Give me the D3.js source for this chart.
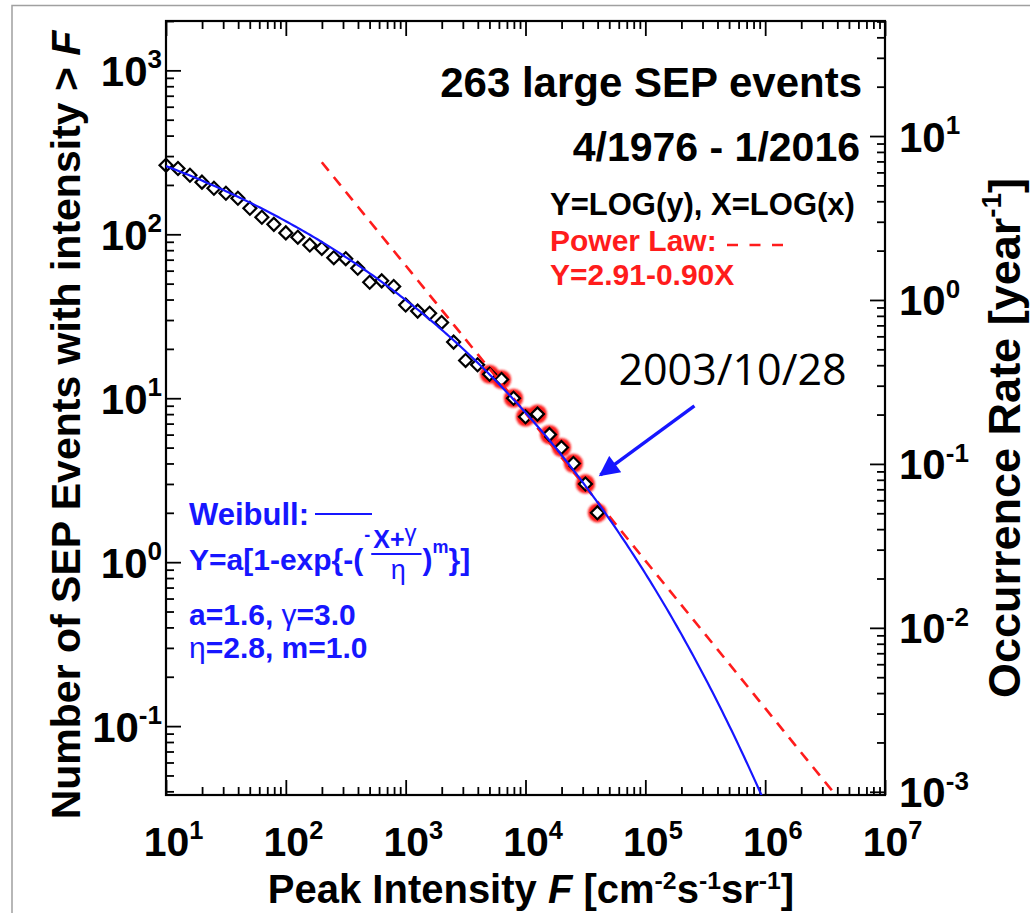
<!DOCTYPE html>
<html>
<head>
<meta charset="utf-8">
<script src="https://cdn.jsdelivr.net/npm/d3@7"></script>
<style>
  body { margin: 0; background: #fff; }
  svg text { font-family: "Liberation Sans", Arial, sans-serif; font-weight: bold; }
  svg text .greek, svg text.greek { font-weight: normal; }
</style>
</head>
<body>
<svg id="chart" width="1030" height="913"></svg>
<script>
// ---- data: cumulative SEP event counts in 0.1-decade intensity bins ----
const logIntensity = [1.0, 1.1, 1.2, 1.3, 1.4, 1.5, 1.6, 1.7, 1.8, 1.9,
                      2.0, 2.1, 2.2, 2.3, 2.4, 2.5, 2.6, 2.7, 2.8, 2.9,
                      3.0, 3.1, 3.2, 3.3, 3.4, 3.5, 3.6, 3.7, 3.8, 3.9,
                      4.0, 4.1, 4.2, 4.3, 4.4, 4.5, 4.6];
const eventCounts = [264, 252, 229, 208, 191, 178, 166, 144, 127, 115,
                     102, 96, 86, 82, 72, 71, 62, 51, 52, 48,
                     37, 34, 33, 29, 22, 17, 16, 14, 13, 10,
                     7.7, 8, 6, 5, 4, 3, 2];
// bins highlighted in the tail of the distribution
const circledLogIntensity = [3.7, 3.8, 3.9, 4.0, 4.1, 4.2, 4.3, 4.4, 4.5, 4.6];
// annotated event
const annotatedLogIntensity = 4.5;
const annotationLabel = "2003/10/28";

// fit parameters (Y = log rate, X = log intensity)
const weibullA = 1.6, weibullGamma = 3.0, weibullEta = 2.8, weibullM = 1.0;
const powerLawIntercept = 2.91, powerLawSlope = -0.90;
const powerLawStartX = 2.3;
const yearsCovered = 39.75;   // 4/1976 - 1/2016

// axis tick exponents
const xTickExponents = [1, 2, 3, 4, 5, 6, 7];
const yTickExponents = [-1, 0, 1, 2, 3];
const rateTickExponents = [-3, -2, -1, 0, 1];

// ---- layout ----
const svg = d3.select("#chart");
const L = 166, R = 885, T = 21, B = 795;
const nMin = 0.038, nMax = 2000;

const x = d3.scaleLog().domain([10, 1e7]).range([L, R]);
const y = d3.scaleLog().domain([nMin, nMax]).range([B, T]);
const yRate = d3.scaleLog().domain([nMin / yearsCovered, nMax / yearsCovered]).range([B, T]);

const BLUE = "#1616ff", RED = "#ff1c1c";

// slide border
svg.append("path").attr("d", "M12,913 V5.5 H1030")
  .attr("fill", "none").attr("stroke", "#a0a0a0").attr("stroke-width", 1.5);

function logTicks(lo, hi) {
  const out = [];
  for (let e = Math.floor(Math.log10(lo)) - 1; e <= Math.ceil(Math.log10(hi)); e++) {
    for (let k = 1; k < 10; k++) {
      const v = k * Math.pow(10, e);
      if (v >= lo * 0.9999 && v <= hi * 1.0001) out.push(v);
    }
  }
  return out;
}
const isMajor = v => Math.abs(Math.log10(v) - Math.round(Math.log10(v))) < 1e-6;

function richText(sel, parts, size, rise = 0.42) {
  let shifted = 0;
  parts.forEach(p => {
    const ts = sel.append("tspan").text(p.t);
    const want = p.sup ? -size * rise : 0;
    if (want - shifted !== 0) ts.attr("dy", want - shifted);
    shifted = want;
    if (p.sup) ts.attr("font-size", size * 0.62);
    if (p.it) ts.attr("font-style", "italic");
  });
}

const MAJ = 15, MIN = 8, TICKW = 1.8, LBL = 42;

// bottom axis
const xTicks = logTicks(10, 1e7);
const gxB = svg.append("g").attr("transform", `translate(0,${B})`)
  .call(d3.axisBottom(x).tickValues(xTicks).tickSize(0).tickFormat(""));
gxB.select(".domain").remove();
gxB.selectAll(".tick text").remove();
gxB.selectAll(".tick line").attr("y2", d => isMajor(d) ? -MAJ : -MIN)
  .attr("stroke", "#000").attr("stroke-width", TICKW);
gxB.selectAll(".tick").filter(d => isMajor(d) && xTickExponents.includes(Math.round(Math.log10(d))))
  .append("text").attr("x", -41 * 0.556).attr("y", 61).attr("fill", "#000")
  .attr("font-size", 41).attr("text-anchor", "start")
  .each(function (d) {
    richText(d3.select(this), [{ t: "10" }, { t: String(Math.round(Math.log10(d))), sup: true }], 41);
  });

// top axis (ticks only)
const gxT = svg.append("g").attr("transform", `translate(0,${T})`)
  .call(d3.axisTop(x).tickValues(xTicks).tickSize(0).tickFormat(""));
gxT.select(".domain").remove();
gxT.selectAll(".tick text").remove();
gxT.selectAll(".tick line").attr("y2", d => isMajor(d) ? MAJ : MIN)
  .attr("stroke", "#000").attr("stroke-width", TICKW);

// left axis
const yTicks = logTicks(nMin, nMax);
const gyL = svg.append("g").attr("transform", `translate(${L},0)`)
  .call(d3.axisLeft(y).tickValues(yTicks).tickSize(0).tickFormat(""));
gyL.select(".domain").remove();
gyL.selectAll(".tick text").remove();
gyL.selectAll(".tick line").attr("x2", d => isMajor(d) ? MAJ : MIN)
  .attr("stroke", "#000").attr("stroke-width", TICKW);
gyL.selectAll(".tick").filter(d => isMajor(d) && yTickExponents.includes(Math.round(Math.log10(d))))
  .append("text").attr("x", -4).attr("y", 15).attr("fill", "#000")
  .attr("font-size", LBL).attr("text-anchor", "end")
  .each(function (d) {
    richText(d3.select(this), [{ t: "10" }, { t: String(Math.round(Math.log10(d))), sup: true }], LBL);
  });

// right axis: occurrence rate
const rTicks = logTicks(nMin / yearsCovered, nMax / yearsCovered);
const gyR = svg.append("g").attr("transform", `translate(${R},0)`)
  .call(d3.axisRight(yRate).tickValues(rTicks).tickSize(0).tickFormat(""));
gyR.select(".domain").remove();
gyR.selectAll(".tick text").remove();
gyR.selectAll(".tick line").attr("x2", d => isMajor(d) ? -MAJ : -MIN)
  .attr("stroke", "#000").attr("stroke-width", TICKW);
gyR.selectAll(".tick").filter(d => isMajor(d) && rateTickExponents.includes(Math.round(Math.log10(d))))
  .append("text").attr("x", 14).attr("y", 15).attr("fill", "#000")
  .attr("font-size", LBL).attr("text-anchor", "start")
  .each(function (d) {
    richText(d3.select(this), [{ t: "10" }, { t: String(Math.round(Math.log10(d))), sup: true }], LBL);
  });

// plot frame
svg.append("rect").attr("x", L).attr("y", T).attr("width", R - L).attr("height", B - T)
  .attr("fill", "none").attr("stroke", "#000").attr("stroke-width", 2.2);

// axis titles
const xt = svg.append("text").attr("x", 531).attr("y", 903).attr("text-anchor", "middle")
  .attr("font-size", 40).attr("fill", "#000");
richText(xt, [{ t: "Peak Intensity " }, { t: "F", it: true }, { t: " [cm" }, { t: "-2", sup: true },
  { t: "s" }, { t: "-1", sup: true }, { t: "sr" }, { t: "-1", sup: true }, { t: "]" }], 40, 0.36);

const ylt = svg.append("text").attr("transform", "translate(80,425) rotate(-90)")
  .attr("text-anchor", "middle").attr("font-size", 41).attr("fill", "#000");
richText(ylt, [{ t: "Number of SEP Events with intensity > " }, { t: "F", it: true }], 41);

const yrt = svg.append("text").attr("transform", "translate(1020,438) rotate(-90)")
  .attr("text-anchor", "middle").attr("font-size", 45).attr("fill", "#000");
richText(yrt, [{ t: "Occurrence Rate [year" }, { t: "-1", sup: true }, { t: "]" }], 45);

// ---- data points ----
const defs = svg.append("defs");
defs.append("filter").attr("id", "glow").attr("x", "-50%").attr("y", "-50%").attr("width", "200%").attr("height", "200%")
  .append("feGaussianBlur").attr("stdDeviation", 0.9);

const pts = logIntensity.map((lx, i) => ({ lx, n: eventCounts[i],
  circled: circledLogIntensity.some(c => Math.abs(c - lx) < 1e-6) }));

svg.append("g").selectAll("circle").data(pts.filter(p => p.circled)).join("circle")
  .attr("cx", p => x(Math.pow(10, p.lx))).attr("cy", p => y(p.n)).attr("r", 9.6)
  .attr("fill", RED).attr("filter", "url(#glow)");

const diamond = d3.symbol(d3.symbolSquare, 84);
svg.append("g").selectAll("path").data(pts).join("path")
  .attr("d", diamond)
  .attr("transform", p => `translate(${x(Math.pow(10, p.lx))},${y(p.n)}) rotate(45)`)
  .attr("fill", p => p.circled ? "#fff" : "none").attr("stroke", "#000").attr("stroke-width", 2.2);

// ---- fits (drawn over the points) ----
const clip = svg.append("clipPath").attr("id", "plotClip")
  .append("rect").attr("x", L).attr("y", T).attr("width", R - L).attr("height", B - T);

const weibullY = X => weibullA * (1 - Math.exp(-Math.pow((weibullGamma - X) / weibullEta, weibullM)));
const powerY = X => powerLawIntercept + powerLawSlope * X;
const toCount = Y => Math.pow(10, Y) * yearsCovered;

const wX = d3.range(1.0, 6.6, 0.02);
const pX = d3.range(powerLawStartX, 7.0, 0.05);
const lineGen = f => d3.line().x(X => x(Math.pow(10, X))).y(X => y(toCount(f(X))));

const fits = svg.append("g").attr("clip-path", "url(#plotClip)");
fits.append("path").datum(pX).attr("d", lineGen(powerY))
  .attr("fill", "none").attr("stroke", RED).attr("stroke-width", 2.6).attr("stroke-dasharray", "11,8");
fits.append("path").datum(wX).attr("d", lineGen(weibullY))
  .attr("fill", "none").attr("stroke", BLUE).attr("stroke-width", 2.2);

// ---- annotation arrow ----
const ann = pts.find(p => Math.abs(p.lx - annotatedLogIntensity) < 1e-6);
const ax = x(Math.pow(10, ann.lx)), ay = y(ann.n);
defs.append("marker").attr("id", "arrowHead").attr("viewBox", "0 0 10 10")
  .attr("refX", 9).attr("refY", 5).attr("markerWidth", 6.5).attr("markerHeight", 6)
  .attr("orient", "auto").append("path").attr("d", "M0,0 L10,5 L0,10 Z").attr("fill", BLUE);
svg.append("line").attr("x1", ax + 109).attr("y1", ay - 78).attr("x2", ax + 15).attr("y2", ay - 9)
  .attr("stroke", BLUE).attr("stroke-width", 3.4).attr("marker-end", "url(#arrowHead)");
svg.append("text").attr("x", ax + 33).attr("y", ay - 99)
  .style("font-weight", "normal").style("font-family", "'Open Sans', sans-serif")
  .attr("font-size", 43).attr("fill", "#000").text(annotationLabel);

// ---- text blocks ----
svg.append("text").attr("x", 862).attr("y", 97).attr("text-anchor", "end")
  .attr("font-size", 42).attr("fill", "#000").text("263 large SEP events");
svg.append("text").attr("x", 860).attr("y", 161).attr("text-anchor", "end")
  .attr("font-size", 41).attr("fill", "#000").text("4/1976 - 1/2016");
svg.append("text").attr("x", 550).attr("y", 215)
  .attr("font-size", 31).attr("fill", "#000").text("Y=LOG(y), X=LOG(x)");
svg.append("text").attr("x", 550).attr("y", 251)
  .attr("font-size", 30).attr("fill", RED).text("Power Law:");
svg.append("line").attr("x1", 727).attr("x2", 783).attr("y1", 245).attr("y2", 245)
  .attr("stroke", RED).attr("stroke-width", 2.4).attr("stroke-dasharray", "11,11.5");
svg.append("text").attr("x", 550).attr("y", 285)
  .attr("font-size", 30).attr("fill", RED).text("Y=2.91-0.90X");

// Weibull legend and formula
const FS = 30, fx = 189, fy = 570;
svg.append("text").attr("x", fx).attr("y", 525).attr("font-size", 31).attr("fill", BLUE).text("Weibull:");
svg.append("line").attr("x1", 315).attr("x2", 372).attr("y1", 514).attr("y2", 514)
  .attr("stroke", BLUE).attr("stroke-width", 2.2);

const f1 = svg.append("text").attr("x", fx).attr("y", fy).attr("font-size", FS).attr("fill", BLUE)
  .text("Y=a[1-exp{-(");
const x0 = fx + f1.node().getComputedTextLength();
svg.append("text").attr("x", x0 + 1).attr("y", fy - 29).attr("font-size", 18).attr("fill", BLUE).text("-");
const num = svg.append("text").attr("x", x0 + 10).attr("y", fy - 22).attr("font-size", 25).attr("fill", BLUE);
num.append("tspan").text("X+");
num.append("tspan").attr("class", "greek").attr("dy", -7).attr("font-size", 24).text("γ");
const numW = num.node().getComputedTextLength();
const barL = x0 + 8, barR = x0 + 10 + numW + 5;
svg.append("line").attr("x1", barL).attr("x2", barR).attr("y1", fy - 16).attr("y2", fy - 16)
  .attr("stroke", BLUE).attr("stroke-width", 2.2);
svg.append("text").attr("class", "greek").attr("x", (barL + barR) / 2 + 2).attr("y", fy + 9)
  .attr("text-anchor", "middle").attr("font-size", 27).attr("fill", BLUE).text("η");
const f2 = svg.append("text").attr("x", barR + 1).attr("y", fy).attr("font-size", FS).attr("fill", BLUE);
f2.append("tspan").text(")");
f2.append("tspan").attr("dy", -17).attr("font-size", 18).text("m");
f2.append("tspan").attr("dy", 17).text("}]");

const p1 = svg.append("text").attr("x", fx).attr("y", 625).attr("font-size", FS).attr("fill", BLUE);
p1.append("tspan").text("a=1.6, ");
p1.append("tspan").attr("class", "greek").text("γ");
p1.append("tspan").text("=3.0");
const p2 = svg.append("text").attr("x", fx).attr("y", 658).attr("font-size", FS).attr("fill", BLUE);
p2.append("tspan").attr("class", "greek").text("η");
p2.append("tspan").text("=2.8, m=1.0");
</script>
</body>
</html>
